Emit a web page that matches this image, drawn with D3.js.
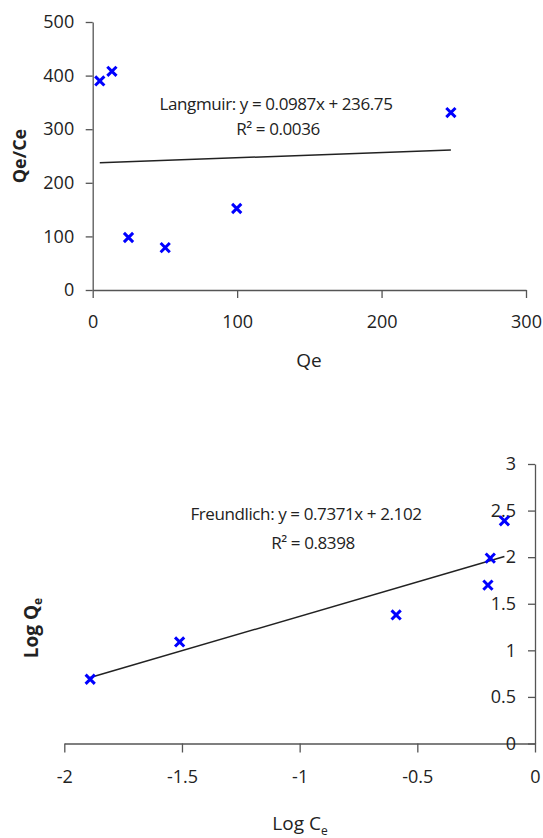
<!DOCTYPE html>
<html lang="en">

<head>
    <title>Langmuir / Freundlich isotherms</title>
    <script src="https://d3js.org/d3.v7.min.js"></script>
    <style>
        body {
            margin: 0;
            background: white;
        }

        .tick text {
            font-family: "Open Sans", sans-serif;
            font-size: 18px;
            fill: #222;
        }

        .tick line,
        .domain {
            stroke: #555;
            stroke-width: 1.3px;
        }

        .eq {
            font-family: "Open Sans", sans-serif;
            font-size: 17px;
            letter-spacing: -0.4px;
            fill: #222;
        }
    </style>
</head>

<body>
    <div id="chart"></div>

    <script>
        // Langmuir plot: Qe vs Qe/Ce
        const langQe = [4.9, 13.3, 24.8, 50.2, 99.7, 248];
        const langQeCe = [390, 408, 98, 79, 152, 331];
        const langSlope = 0.0987, langIntercept = 236.75;
        const langXTicks = [0, 100, 200, 300];
        const langYTicks = [0, 100, 200, 300, 400, 500];

        // Freundlich plot: Log Ce vs Log Qe
        const freLogCe = [-1.89, -1.51, -0.59, -0.20, -0.19, -0.13];
        const freLogQe = [0.69, 1.09, 1.38, 1.70, 1.99, 2.39];
        const freSlope = 0.7371, freIntercept = 2.102;
        const freXTicks = [-2, -1.5, -1, -0.5, 0];
        const freYTicks = [0, 0.5, 1, 1.5, 2, 2.5, 3];

        const svgWidth = 543, svgHeight = 838;

        const svg = d3.select('#chart')
            .append('svg')
            .attr('width', svgWidth)
            .attr('height', svgHeight);

        function drawCrosses(g, xs, ys, sx, sy) {
            const h = 4.6;
            g.selectAll('path.cross')
                .data(xs.map((x, i) => [x, ys[i]]))
                .join('path')
                .attr('class', 'cross')
                .attr('d', d => {
                    const cx = sx(d[0]), cy = sy(d[1]);
                    return `M${cx - h},${cy - h}L${cx + h},${cy + h}M${cx - h},${cy + h}L${cx + h},${cy - h}`;
                })
                .attr('stroke', '#0000ff')
                .attr('stroke-width', 3)
                .attr('fill', 'none');
        }

        function drawTrend(g, xs, slope, intercept, sx, sy) {
            const ext = d3.extent(xs);
            g.append('path')
                .datum(ext.map(x => [x, slope * x + intercept]))
                .attr('fill', 'none')
                .attr('stroke', '#222')
                .attr('stroke-width', 1.5)
                .attr('d', d3.line()
                    .x(d => sx(d[0]))
                    .y(d => sy(d[1])));
        }

        // ---------- top chart ----------
        const topG = svg.append('g');

        const x1 = d3.scaleLinear().domain([0, 300]).range([92.7, 526]);
        const y1 = d3.scaleLinear().domain([0, 500]).range([290, 22]);

        topG.append('g')
            .attr('transform', 'translate(0,' + y1(0) + ')')
            .call(d3.axisBottom(x1)
                .tickValues(langXTicks)
                .tickFormat(d3.format('d'))
                .tickSize(8)
                .tickSizeOuter(0)
                .tickPadding(17));

        topG.append('g')
            .attr('transform', 'translate(' + x1(0) + ',0)')
            .call(d3.axisLeft(y1)
                .tickValues(langYTicks)
                .tickFormat(d3.format('d'))
                .tickSize(7)
                .tickSizeOuter(0)
                .tickPadding(11.5));

        drawTrend(topG, langQe, langSlope, langIntercept, x1, y1);
        drawCrosses(topG, langQe, langQeCe, x1, y1);

        topG.append('text')
            .attr('class', 'eq')
            .attr('x', 276).attr('y', 110)
            .attr('text-anchor', 'middle')
            .text('Langmuir: y = 0.0987x + 236.75');
        topG.append('text')
            .attr('class', 'eq')
            .attr('x', 278).attr('y', 135)
            .attr('text-anchor', 'middle')
            .text('R² = 0.0036');

        topG.append('text')
            .attr('transform', 'translate(26,156) rotate(-90)')
            .attr('text-anchor', 'middle')
            .attr('font-family', '"Open Sans", sans-serif')
            .attr('font-weight', 'bold')
            .attr('font-size', 18)
            .attr('fill', '#222')
            .text('Qe/Ce');

        topG.append('text')
            .attr('x', 309).attr('y', 367)
            .attr('text-anchor', 'middle')
            .attr('font-family', '"Open Sans", sans-serif')
            .attr('font-size', 19)
            .attr('fill', '#222')
            .text('Qe');

        // ---------- bottom chart ----------
        const botG = svg.append('g');

        const x2 = d3.scaleLinear().domain([-2, 0]).range([64.3, 535]);
        const y2 = d3.scaleLinear().domain([0, 3]).range([743.5, 464]);

        botG.append('g')
            .attr('transform', 'translate(0,' + y2(0) + ')')
            .call(d3.axisBottom(x2)
                .tickValues(freXTicks)
                .tickFormat(d => d3.format('')(d).replace('−', '-'))
                .tickSize(9)
                .tickSizeOuter(0)
                .tickPadding(18));

        botG.append('g')
            .attr('transform', 'translate(' + x2(0) + ',0)')
            .call(d3.axisLeft(y2)
                .tickValues(freYTicks)
                .tickFormat(d3.format(''))
                .tickSize(7)
                .tickSizeOuter(0)
                .tickPadding(12));

        drawTrend(botG, freLogCe, freSlope, freIntercept, x2, y2);
        drawCrosses(botG, freLogCe, freLogQe, x2, y2);

        botG.append('text')
            .attr('class', 'eq')
            .attr('x', 306).attr('y', 520)
            .attr('text-anchor', 'middle')
            .text('Freundlich: y = 0.7371x + 2.102');
        botG.append('text')
            .attr('class', 'eq')
            .attr('x', 313).attr('y', 549)
            .attr('text-anchor', 'middle')
            .text('R² = 0.8398');

        const yTitle = botG.append('text')
            .attr('transform', 'translate(38,628) rotate(-90)')
            .attr('text-anchor', 'middle')
            .attr('font-family', '"Open Sans", sans-serif')
            .attr('font-weight', 'bold')
            .attr('font-size', 19)
            .attr('fill', '#222');
        yTitle.append('tspan').text('Log Q');
        yTitle.append('tspan').attr('font-size', 12).attr('dy', 4).text('e');

        const xTitle = botG.append('text')
            .attr('x', 300).attr('y', 830)
            .attr('text-anchor', 'middle')
            .attr('font-family', '"Open Sans", sans-serif')
            .attr('font-size', 19)
            .attr('fill', '#222');
        xTitle.append('tspan').text('Log C');
        xTitle.append('tspan').attr('font-size', 12).attr('dy', 5).text('e');
    </script>
</body>

</html>
